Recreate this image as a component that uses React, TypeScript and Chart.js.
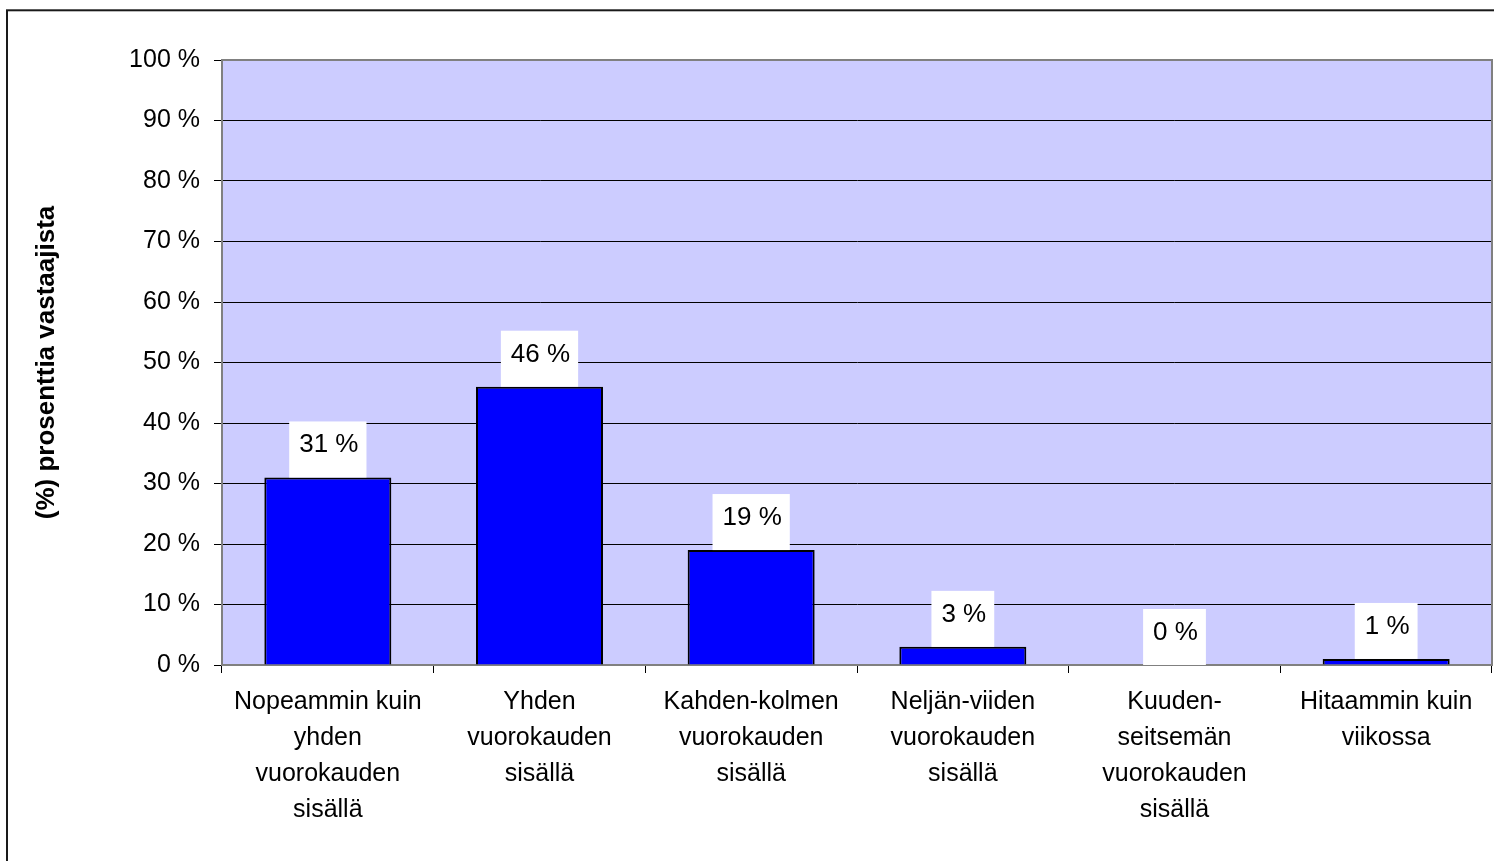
import React, { useEffect, useRef } from "react";
import { Chart, registerables } from "chart.js";

Chart.register(...registerables);

const categories: string[][] = [
  ["Nopeammin kuin", "yhden", "vuorokauden", "sisällä"],
  ["Yhden", "vuorokauden", "sisällä"],
  ["Kahden-kolmen", "vuorokauden", "sisällä"],
  ["Neljän-viiden", "vuorokauden", "sisällä"],
  ["Kuuden-", "seitsemän", "vuorokauden", "sisällä"],
  ["Hitaammin kuin", "viikossa"],
];
const values: number[] = [31, 46, 19, 3, 0, 1];
const valueLabels: string[] = ["31 %", "46 %", "19 %", "3 %", "0 %", "1 %"];
const yTitle = "(%) prosenttia vastaajista";

const FONT = "'Liberation Sans', Arial, sans-serif";

const framePlugin = {
  id: "frame",
  beforeDraw(chart: any) {
    const { ctx, chartArea } = chart;
    ctx.save();
    ctx.fillStyle = "#ffffff";
    ctx.fillRect(0, 0, chart.width, chart.height);
    ctx.strokeStyle = "#1a1a1a";
    ctx.lineWidth = 2;
    ctx.strokeRect(7, 10.3, chart.width + 20, chart.height + 20);
    ctx.fillStyle = "#CCCCFF";
    ctx.fillRect(chartArea.left, chartArea.top, chartArea.right - chartArea.left, chartArea.bottom - chartArea.top);
    ctx.restore();
  },
  beforeDatasetsDraw(chart: any) {
    const { ctx, chartArea } = chart;
    ctx.save();
    ctx.strokeStyle = "#808080";
    ctx.lineWidth = 2;
    ctx.beginPath();
    ctx.moveTo(chartArea.left, chartArea.top);
    ctx.lineTo(chartArea.right, chartArea.top);
    ctx.lineTo(chartArea.right, chartArea.bottom);
    ctx.stroke();
    ctx.restore();
  },
  afterDatasetsDraw(chart: any) {
    const { ctx } = chart;
    const meta = chart.getDatasetMeta(0);
    ctx.save();
    ctx.font = `26px ${FONT}`;
    ctx.textAlign = "center";
    ctx.textBaseline = "alphabetic";
    meta.data.forEach((bar: any, i: number) => {
      const text = valueLabels[i];
      const w = ctx.measureText(text).width + 18;
      const h = 56;
      const bottom = bar.y;
      ctx.fillStyle = "#ffffff";
      ctx.fillRect(bar.x - w / 2, bottom - h, w, h);
      ctx.fillStyle = "#000000";
      ctx.fillText(text, bar.x + 1, bottom - 25);
    });
    ctx.restore();
  },
};

export default function App() {
  const ref = useRef<HTMLCanvasElement | null>(null);
  useEffect(() => {
    if (!ref.current) return;
    const chart = new Chart(ref.current, {
      type: "bar",
      data: {
        labels: categories,
        datasets: [
          {
            data: values,
            backgroundColor: "#0000FF",
            borderColor: "#000000",
            borderWidth: 2,
            barPercentage: 0.6,
            categoryPercentage: 1,
          },
        ],
      },
      options: {
        responsive: false,
        animation: false,
        devicePixelRatio: 1,
        layout: { padding: { top: 60, right: 2, left: 0, bottom: 0 } },
        plugins: {
          legend: { display: false },
          tooltip: { enabled: false },
        },
        scales: {
          x: {
            grid: {
              display: true,
              drawOnChartArea: false,
              drawTicks: true,
              tickLength: 8,
              color: "#000000",
              offset: true,
            },
            border: { display: true, color: "#808080", width: 2 },
            ticks: {
              color: "#000000",
              font: { family: FONT, size: 25, lineHeight: 1.44 },
              padding: 11,
              maxRotation: 0,
              autoSkip: false,
            },
            afterFit(scale: any) {
              scale.height = 196;
            },
          },
          y: {
            min: 0,
            max: 100,
            ticks: {
              stepSize: 10,
              color: "#000000",
              font: { family: FONT, size: 25 },
              padding: 14,
              callback: (v: any) => `${v} %`,
            },
            grid: {
              color: "#000000",
              lineWidth: 1,
              tickLength: 8,
            },
            border: { display: true, color: "#808080", width: 2 },
            title: {
              display: true,
              text: yTitle,
              color: "#000000",
              font: { family: FONT, size: 26, weight: "bold" },
              padding: { top: 31, bottom: 0 },
            },
            afterFit(scale: any) {
              scale.width = 222;
            },
          },
        },
      },
      plugins: [framePlugin],
    });
    return () => chart.destroy();
  }, []);
  return (
    <div style={{ position: "absolute", left: 0, top: 0, width: 1494, height: 861, overflow: "hidden" }}>
      <canvas ref={ref} width={1494} height={861} style={{ width: 1494, height: 861, display: "block" }} />
    </div>
  );
}
